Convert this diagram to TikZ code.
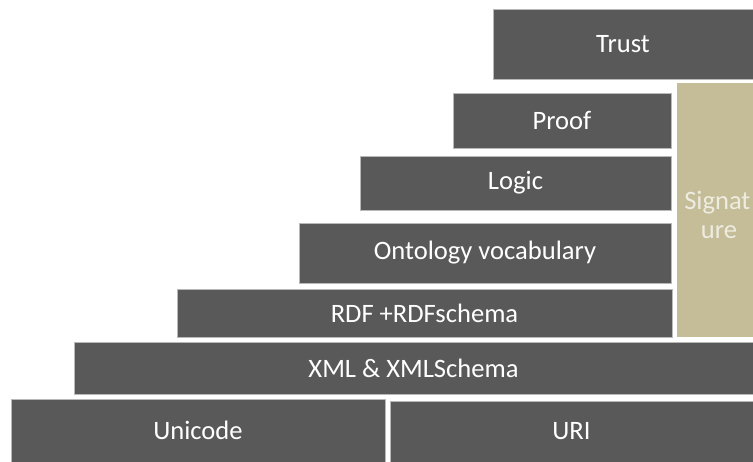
\documentclass[tikz,border=0pt]{standalone}
\usepackage{fontspec}
\setmainfont{Carlito}
\definecolor{layergray}{HTML}{595959}
\definecolor{sigtan}{HTML}{C4BD97}
\definecolor{sigtext}{HTML}{EEECE1}
\tikzset{
    layer/.style={draw=gray!55, line width=0.4pt, fill=layergray, text=white, inner sep=0pt, font=\fontsize{20}{24}\selectfont},
    sigbox/.style={fill=sigtan, text=sigtext, inner sep=0pt, align=center, font=\fontsize{20}{22}\selectfont}
}
\begin{document}
\begin{tikzpicture}[x=0.75bp, y=-0.75bp]
        \useasboundingbox (0,0) rectangle (753,462);
        \node[layer, minimum width=260*0.75bp, minimum height=70*0.75bp] (trust) at (623,44) {Trust};
        \node[layer, minimum width=218*0.75bp, minimum height=55*0.75bp] (proof) at (562,120.5) {Proof};
        \node[layer, minimum width=311*0.75bp, minimum height=54*0.75bp] (logic) at (515.5,183) {Logic};
        \node[layer, minimum width=372*0.75bp, minimum height=60*0.75bp] (onto) at (485,253) {Ontology vocabulary};
        \node[layer, minimum width=495*0.75bp, minimum height=48*0.75bp] (rdf) at (424.5,313) {RDF +RDFschema};
        \node[layer, minimum width=679*0.75bp, minimum height=52*0.75bp] (xml) at (413.5,368) {XML \& XMLSchema};
        \node[layer, minimum width=374*0.75bp, minimum height=63*0.75bp] (unicode) at (198,430.5) {Unicode};
        \node[layer, minimum width=363*0.75bp, minimum height=61*0.75bp] (uri) at (571.5,431.5) {URI};
        \node[sigbox, minimum width=76*0.75bp, minimum height=254*0.75bp] (sig) at (715,210) {};
        \node[text=sigtext, inner sep=0pt, align=left, font=\fontsize{20}{22}\selectfont, anchor=west] (sigtxt) at (684,215) {Signat\\\hspace*{12.5bp}ure};
    \end{tikzpicture}
\end{document}
